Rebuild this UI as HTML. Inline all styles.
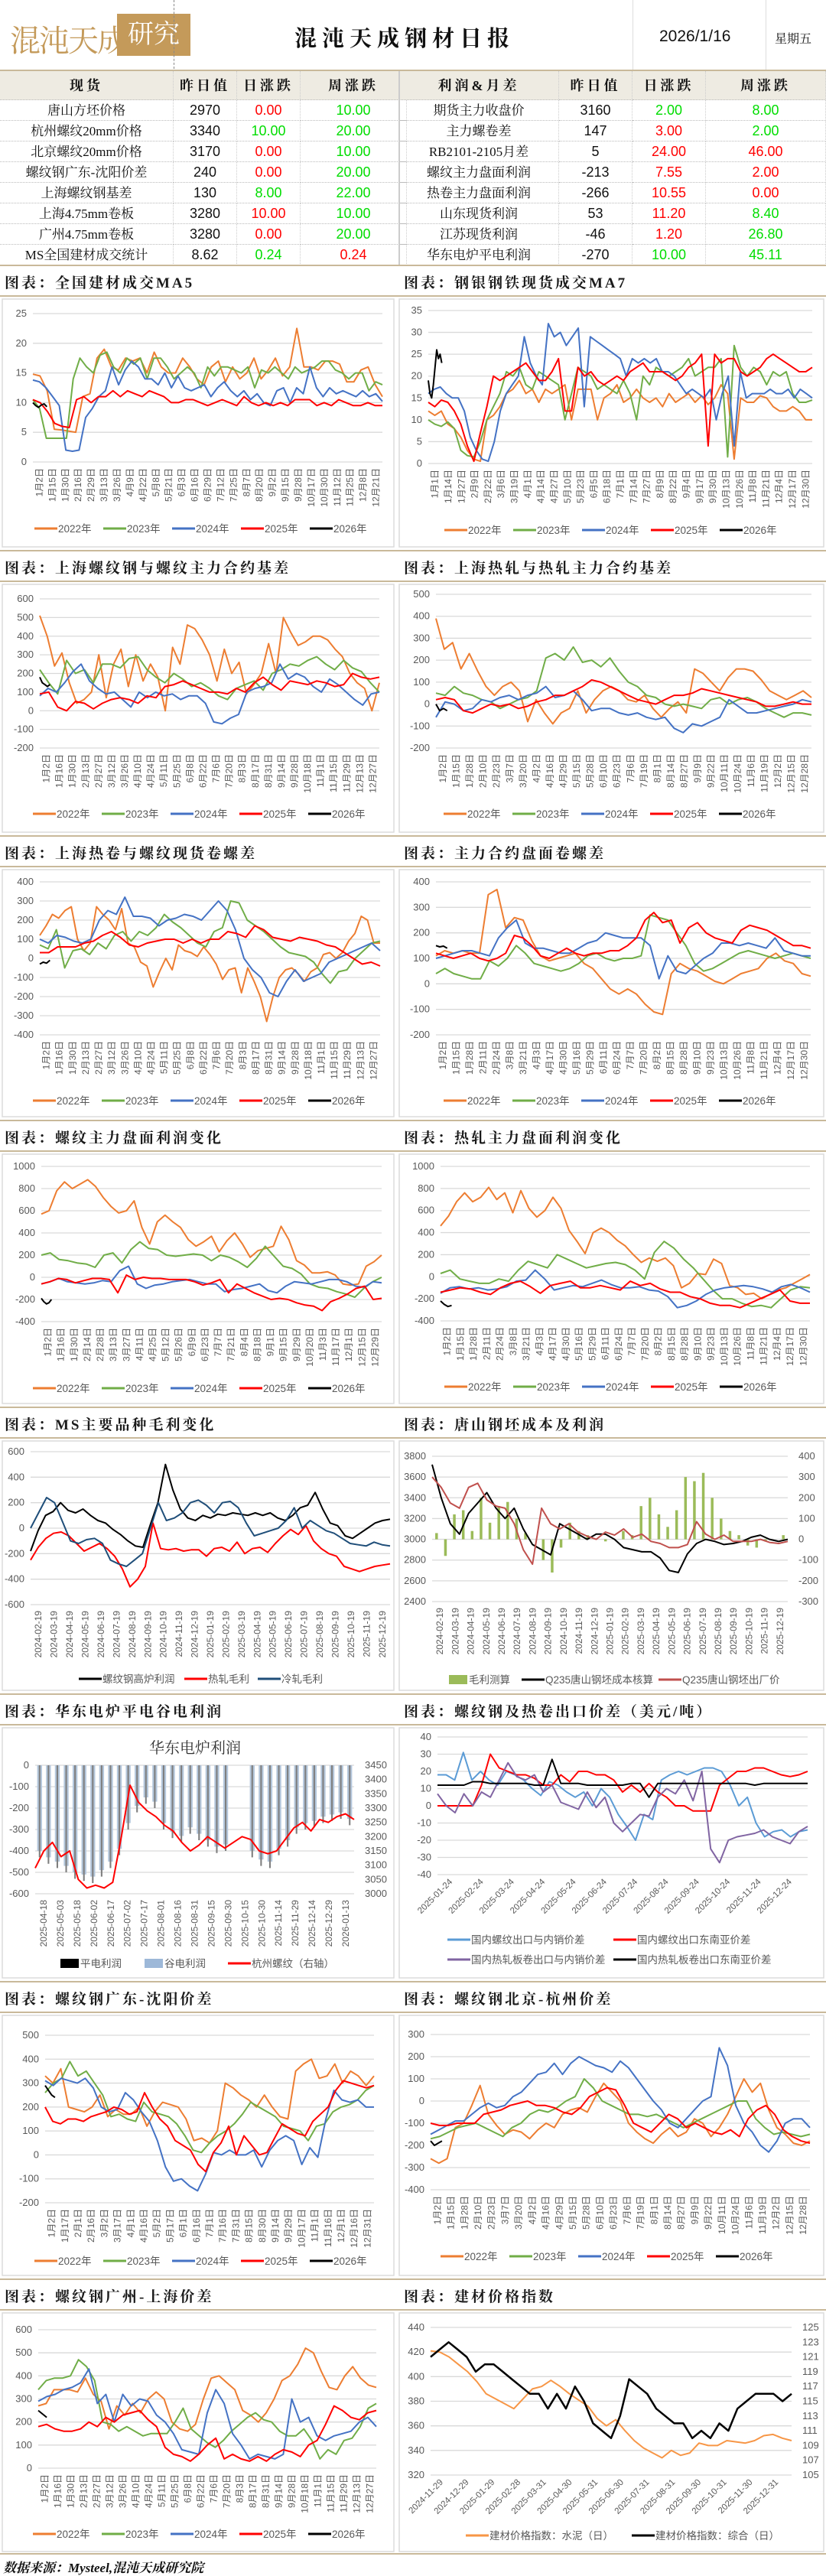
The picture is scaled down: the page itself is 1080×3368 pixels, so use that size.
<!DOCTYPE html>
<html><head><meta charset="utf-8">
<style>
body{margin:0;background:#fff;width:1080px;height:3364px;position:relative;overflow:hidden;font-family:"Liberation Sans","Noto Sans CJK SC",sans-serif}
.abs{position:absolute}
.kt{font-family:"Liberation Serif","Noto Serif CJK SC",serif}
table{border-collapse:collapse}
</style></head><body>
<div class="abs" style="left:13px;top:18px;width:238px;height:58px">
  <span class="kt abs" style="left:0;top:4px;font-size:40px;color:#c49a5a;letter-spacing:-2px">混沌天成</span>
  <div class="abs kt" style="left:140px;top:0;width:96px;height:55px;background:#c49a5a;color:#fff;font-size:34px;line-height:55px;text-align:center">研究院</div>
</div>
<div class="abs" style="left:227px;top:0;height:90px;border-left:1px dashed #888"></div>
<div class="abs" style="left:827px;top:0;height:92px;border-left:1px solid #ddd"></div>
<div class="abs" style="left:1001px;top:0;height:92px;border-left:1px solid #ddd"></div>
<div class="abs kt" style="left:385px;top:28px;font-size:29px;font-weight:bold;letter-spacing:7px;color:#111">混沌天成钢材日报</div>
<div class="abs" style="left:862px;top:36px;font-size:21px;color:#111">2026/1/16</div>
<div class="abs kt" style="left:1013px;top:38px;font-size:16px;color:#111">星期五</div>
<div class="abs" style="left:0;top:91px;width:1080px;height:2px;background:#c9b99a"></div>

<div id="tables"></div>
<svg id="chart" class="abs" style="left:0;top:0" width="1080" height="3364"></svg>
<div class="abs kt" style="left:4px;top:3343px;font-size:17px;font-style:italic;font-weight:bold;color:#111">数据来源：Mysteel,混沌天成研究院</div>

<script>
// ---------- table data ----------
const leftNames=["唐山方坯价格","杭州螺纹20mm价格","北京螺纹20mm价格","螺纹钢广东-沈阳价差","上海螺纹钢基差","上海4.75mm卷板","广州4.75mm卷板","MS全国建材成交统计"];
const leftPrev=["2970","3340","3170","240","130","3280","3280","8.62"];
const leftDay=["0.00","10.00","0.00","0.00","8.00","10.00","0.00","0.24"];
const leftDayC=["r","g","r","r","g","r","r","g"];
const leftWeek=["10.00","20.00","10.00","20.00","22.00","10.00","20.00","0.24"];
const leftWeekC=["g","g","g","g","g","g","g","r"];
const rightNames=["期货主力收盘价","主力螺卷差","RB2101-2105月差","螺纹主力盘面利润","热卷主力盘面利润","山东现货利润","江苏现货利润","华东电炉平电利润"];
const rightPrev=["3160","147","5","-213","-266","53","-46","-270"];
const rightDay=["2.00","3.00","24.00","7.55","10.55","11.20","1.20","10.00"];
const rightDayC=["g","r","r","r","r","r","r","g"];
const rightWeek=["8.00","2.00","46.00","2.00","0.00","8.40","26.80","45.11"];
const rightWeekC=["g","g","r","r","r","g","g","g"];
const COL={r:"#ff0000",g:"#00dd00"};
function buildTable(x,cols,head,names,prev,day,dc,week,wc,tag){
  let h=`<div class="abs" style="left:${x}px;top:93px">`;
  h+=`<div style="position:absolute;left:0;top:0;width:${cols.reduce((a,b)=>a+b)}px;height:38px;background:#eeebe2"></div>`;
  let cx=0;const cells=[head];
  for(let i=0;i<names.length;i++)cells.push([names[i],prev[i],day[i],week[i]]);
  cells.forEach((row,ri)=>{
    let top=ri==0?0:38+(ri-1)*27,hh=ri==0?38:27;cx=0;
    row.forEach((t,ci)=>{
      let color="#111";
      if(ri>0&&ci==2)color=COL[dc[ri-1]];
      if(ri>0&&ci==3)color=COL[wc[ri-1]];
      let fam=(ci==0||ri==0)?'class="kt"':'';
      let fs=ri==0?18:(ci==0?17:18);
      h+=`<div ${fam} style="position:absolute;left:${cx}px;top:${top}px;width:${cols[ci]}px;height:${hh}px;line-height:${hh}px;text-align:center;font-size:${fs}px;${ri==0?'font-weight:bold;letter-spacing:4px;':''}color:${color};border-bottom:1px dotted #bbb;border-right:1px dotted #ccc;box-sizing:border-box;white-space:nowrap;overflow:hidden">${t}</div>`;
      cx+=cols[ci];
    });
  });
  h+='</div>';return h;
}
document.getElementById('tables').innerHTML=
 buildTable(0,[227,83,83,139],["现货","昨日值","日涨跌","周涨跌"],leftNames,leftPrev,leftDay,leftDayC,leftWeek,leftWeekC,'spot-table')+
 buildTable(522,[209,96,96,157],["利润&月差","昨日值","日涨跌","周涨跌"],rightNames,rightPrev,rightDay,rightDayC,rightWeek,rightWeekC,'profit-table')+
 '<div class="abs" style="left:521px;top:93px;width:2px;height:254px;background:#ccc"></div>';

// ---------- chart data ----------
const c1_2022=[14.8,14.5,12,5.5,5.4,5.2,5,11,11.5,17.5,19,16,15.5,17.5,17,17.5,15,18.5,16,15,15,17.5,16,14,13,16,17,13.5,16,14,15,17.5,14,15.5,17.5,14.5,16,22.5,16,16,15.5,17,17,16.5,13.5,13.5,15.5,16,13,11];
const c1_2023=[10.5,9,4,4,4,4,14,17.5,16,15,18,18.5,16,15,17.5,16.5,17.5,14,17.5,17.5,16,14,15,16,15,12.5,16,14.5,16,16,15.5,15,16,12.5,15.5,15,16,15,14,16,15,15.5,16,17,17,15.5,15,14,15,15,12,13.5,13];
const c1_2024=[13.8,13.5,12.5,11,9.5,2,1.8,2,7.5,9,11,12,16,13,15.5,17,16,14,14,13,15,12.5,14.5,12.5,12,12.5,13,11,12.5,13.5,12,11,12,10.5,11.5,10,9.5,12,12.5,10,12.5,11.5,16,12.5,11,12.5,11.5,12,11.5,11,12,11,11.5,10.2];
const c1_2025=[10.5,10,8.5,6.5,6,5.8,10.5,11,10,11,11,12,11,12,11.5,11,12,11.5,11,10,10,10.5,10.5,10,9.5,10,10.5,10,9.5,11,10,9.5,10,9.5,10,9.5,10.5,10.5,10.5,9.5,10,9.5,10.5,10,9.5,9.5,10,9.5,9.5];
const c1_2026=[10,9.5,9.2,9.6,9.8,9.3];
const c2_2022=[12,11,12,9,8,6,3,1,0.5,10,11,13,16,17,19,16,17,14,17,16,17,18,10,17,17,17,10,15,16,18,14,15,17,15,14,15,13,16,14,15,16,14,15.5,13.5,15,18,16,1,15,14,14,15.5,15,13,12,12,13,12,10,10];
const c2_2023=[10,9,8.5,9.5,8,3,1.8,1.5,5,10,13,16,21,20,22,18,17,21,20,19,18,10,16,22,21,20,17,18,17,16,19,16,10,20,18,22,21,20,21,22,24,20,21,22,22,24,1.5,27,22,20,22,21,18,21,20,21,16,14,14,14.5];
const c2_2024=[16,17,17.5,16,15,15,12,6,3,1,0.5,5,12,16,18,20,29,23,20,18,32,29,30,27,29,31,13,29,28,27,26,25,24,20,24,23,24,23,24,21,21,20,18,16,17,16,15,17,10,16,20,4,21,15,16,16,16,17,16,16,17,15,17,16,15];
const c2_2025=[14,13,14.5,14,12,9,4,0.5,7,13,20,19,20,21,22,23,21,19,19,21,24,12,12,22,20,21,19,18,19,20,19,21,22,23,21,21,21,20,19,20,22,23,25,4,25,23,24,24,21,20,21,22,24,25,24,23,22,21,21,22];
const c2_2026=[19,16,15,18,22,26,24,25,23];
const c3_2022=[510,400,240,310,150,40,60,100,300,70,250,330,130,300,160,250,180,0,340,250,460,440,380,300,160,330,200,260,90,140,200,360,200,500,420,350,370,400,400,380,330,290,200,150,120,0,150];
const c3_2023=[220,150,90,270,200,220,150,250,250,230,280,290,220,180,150,200,170,130,150,120,80,60,120,140,160,110,200,220,250,240,270,290,250,220,270,230,210,150,100];
const c3_2024=[80,120,100,150,210,250,160,120,90,100,60,20,100,70,100,80,90,60,80,80,40,-60,-70,-40,-20,100,120,130,150,250,170,200,180,130,100,170,140,100,60,30,90,100];
const c3_2025=[90,100,20,0,50,40,10,40,60,70,60,40,80,70,130,140,160,140,120,100,100,90,120,100,150,180,140,110,160,150,140,160,150,130,140,200,180,170,180];
const c3_2026=[180,150,140,130,140];
const c4_2022=[390,250,280,160,230,150,80,40,80,100,60,-80,20,-40,-90,-40,-20,60,-40,20,60,80,60,20,10,40,-20,-60,-20,10,-40,160,140,100,60,120,160,160,150,110,60,40,20,40,60,30];
const c4_2023=[50,40,80,50,40,20,10,-20,0,20,30,60,210,230,200,260,190,200,170,210,150,100,80,40,30,0,-10,0,-10,-20,20,30,0,20,30,10,-20,-40,-60,-40,-40,-50];
const c4_2024=[-60,10,0,-30,-20,20,10,30,40,20,40,50,80,30,40,60,20,-30,-20,-20,-40,-50,-40,-60,-70,-60,-110,-130,-90,-100,-80,-60,20,-10,-40,-40,-30,-20,-10,0,20,10];
const c4_2025=[20,30,20,-30,-40,-20,0,-10,0,-20,-10,10,20,40,40,60,80,110,100,80,60,40,20,10,0,20,40,40,50,70,60,50,40,30,20,10,-10,-10,0,10,0,0];
const c4_2026=[0,-30,-20,-30];
const c5_2022=[120,170,230,210,250,270,100,40,80,270,230,200,150,260,80,60,-20,-40,-150,-70,0,-60,70,40,30,10,60,20,-30,-110,-60,-50,-180,-50,-120,-200,-330,-200,-100,-60,-50,-80,-120,-70,-50,20,30,0,30,90,130,220,200,80,80];
const c5_2023=[70,50,150,-50,40,50,20,80,50,120,140,90,140,120,160,230,190,160,120,80,60,140,160,300,290,200,170,140,100,60,30,20,10,-20,-80,-130,-70,-60,0,40,80,90];
const c5_2024=[100,80,120,110,90,80,100,200,250,230,320,220,220,210,170,200,210,230,220,200,250,300,250,150,0,-60,-100,-180,-200,-120,-60,-120,-100,-80,-20,0,20,40,60,80,40];
const c5_2025=[30,30,60,60,60,80,90,120,140,110,70,60,80,90,100,100,80,100,80,100,100,140,130,110,170,150,110,100,90,110,100,90,70,60,30,0,-30,-20,-40];
const c5_2026=[-30,-20,-25,-10];
const c6_2022=[110,130,120,130,120,120,350,370,220,260,250,170,110,90,100,110,120,80,60,20,-20,-40,-20,-40,-80,-110,-120,40,80,60,50,30,10,0,20,40,50,60,100,120,90,80,40,30];
const c6_2023=[40,60,40,30,20,20,90,70,100,150,120,80,70,60,50,60,80,110,120,100,90,100,100,110,270,260,250,200,150,80,50,60,80,100,120,130,120,110,100,110,120,110,100];
const c6_2024=[100,110,120,130,130,120,110,180,220,250,160,140,140,130,120,120,140,160,170,200,190,180,180,180,150,20,110,50,40,70,100,120,160,160,150,160,150,140,180,130,120,110,110];
const c6_2025=[120,110,100,110,120,100,90,100,120,190,180,150,110,100,120,140,120,110,120,120,130,130,150,180,250,280,240,250,160,220,240,200,180,170,160,210,230,220,210,190,170,150,150,140];
const c6_2026=[150,145,148,140];
const c7_2022=[570,600,780,860,800,840,880,820,720,640,580,600,690,450,300,500,560,500,450,340,280,320,370,230,330,400,300,180,240,260,280,460,340,150,110,40,40,50,20,-60,-70,-60,100,140,200];
const c7_2023=[200,220,160,150,130,120,90,200,220,130,250,320,260,250,200,190,200,210,200,150,200,180,140,90,170,280,190,100,80,30,-60,-90,-100,-130,-150,-180,-100,-40,0];
const c7_2024=[-60,-40,-10,-40,-50,-60,-50,-30,-40,60,100,-60,-100,-70,-60,-40,-30,-20,-40,-60,-60,-130,-110,-100,-80,-60,-120,-140,-80,-40,-50,-60,-40,-20,-20,-40,-80,-90,-40,-50];
const c7_2025=[-60,-40,-10,-20,-50,-30,-10,-10,-20,-140,20,-20,0,-10,-10,-20,-20,-20,-40,-70,-50,-20,-140,-60,-100,-140,-170,-200,-190,-200,-230,-250,-260,-300,-220,-190,-150,-100,-80,-200,-190];
const c7_2026=[-190,-220,-240,-230,-200];
const c8_2022=[460,550,680,760,680,720,810,700,760,580,780,620,540,600,720,620,420,320,210,400,440,400,330,280,200,130,170,140,170,100,-100,-60,30,20,160,120,-80,-100,-160,-150,-200,-160,-120,-100,-60,-20,20];
const c8_2023=[30,60,-20,-40,-60,-60,-20,-40,60,140,110,80,200,160,120,80,100,120,130,110,60,-20,220,320,260,160,80,-20,-120,-200,-200,-240,-270,-260,-280,-200,-120,-90,-100];
const c8_2024=[-150,-100,-90,-110,-100,-120,-110,-90,-40,-30,60,-20,-120,-100,-80,-90,-60,-30,-70,-100,-100,-90,-120,-130,-180,-280,-260,-220,-160,-120,-100,-90,-80,-90,-110,-140,-90,-70,-100,-140];
const c8_2025=[-140,-120,-100,-110,-140,-160,-100,-60,-40,-90,-150,-80,-60,-40,-100,-100,-80,-100,-120,-40,-80,-60,-110,-140,-140,-180,-200,-240,-260,-260,-280,-240,-200,-160,-120,-220,-240,-240];
const c8_2026=[-220,-250,-270,-260];
const c9_rebar=[-180,-20,100,130,200,140,120,150,100,60,40,-10,-50,-100,-140,-150,30,200,500,300,150,80,60,100,80,110,100,120,110,100,120,100,120,80,60,100,160,180,280,150,40,20,-60,-80,-40,0,40,60,70];
const c9_hrc=[-250,-150,-80,-40,-30,-60,-120,-180,-150,-120,-160,-220,-320,-460,-400,-300,40,-160,-170,-160,-180,-170,-170,-220,-160,-150,-180,-110,-200,-160,-150,-190,-120,-60,-10,-50,20,-100,-160,-200,-220,-300,-320,-340,-320,-300,-290,-280];
const c9_crc=[0,120,240,200,50,-100,-120,-90,-80,-120,-250,-280,-300,-250,-200,0,200,60,80,120,200,220,180,120,200,210,160,40,-60,-40,-20,0,60,160,0,60,20,-20,-40,-80,-120,-130,-140,-110,-130,-140];
const c10_cost=[3720,3400,3150,3050,3250,3350,3450,3300,3200,3300,3100,2950,2900,2850,3150,3100,3050,3000,3050,3050,3000,2920,2900,2880,2880,2820,2700,2680,2860,2960,3000,2980,2950,2960,2980,3020,3040,3000,2980,3000];
const c10_price=[3600,3500,3350,3300,3500,3540,3380,3320,3300,3150,2900,2760,3300,3150,3100,3150,3070,3030,3000,3070,3040,3100,3020,3050,2980,2960,2920,2920,2950,3170,3050,3000,3040,2980,2980,2980,3000,2970,2960,2980];
const c10_margin=[30,-80,120,140,40,200,80,160,180,100,30,0,-100,-160,-40,80,40,20,0,-10,0,40,20,160,200,120,60,140,300,280,320,200,100,40,20,-30,-40,-10,0,20];
const c11_flat=[-430,-460,-480,-500,-530,-540,-550,-520,-480,-420,-300,-220,-180,-200,-300,-340,-360,-320,-350,-380,-410,-400,null,null,-430,-470,-480,-420,-380,-320,-300,-290,-270,-260,-250,-280];
const c11_valley=[-400,-430,-450,-470,-500,-510,-520,-490,-450,-390,-270,-190,-150,-170,-270,-310,-330,-290,-320,-350,-380,-370,null,null,-400,-440,-450,-390,-350,-290,-270,-260,-240,-230,-220,-250];
const c11_price=[3090,3150,3180,3130,3150,3050,3020,3030,3020,3040,3200,3380,3320,3290,3270,3240,3220,3180,3150,3170,3200,3180,3160,3180,3200,3190,3150,3140,3150,3190,3230,3250,3220,3260,3250,3270,3280,3260];
const c12_rebarDom=[18,18,15,31,15,20,15,12,20,18,15,10,6,14,12,8,5,8,0,10,5,-5,-12,-20,-5,-8,15,18,20,18,20,22,22,20,12,0,5,-10,-18,-15,-14,-18,-15,-14];
const c12_rebarSEA=[0,0,0,0,0,12,30,22,20,18,18,16,12,12,18,14,20,20,18,18,15,8,12,8,13,8,5,0,0,-3,-3,-3,12,16,20,20,22,22,20,18,17,18,20];
const c12_hrcDom=[7,0,-4,7,0,8,5,15,25,17,15,18,8,12,2,0,-2,8,-1,5,-10,-15,-10,-5,-6,5,10,7,15,3,20,-25,-33,-20,-18,-17,-16,-14,-18,-20,-22,-15,-12];
const c12_hrcSEA=[12,12,12,12,14,14,13,13,13,13,13,12,12,27,13,13,13,12,12,12,12,12,13,13,5,13,13,13,13,13,13,13,13,13,13,13,12,13,13,13,13,13,13];
const c13_2022=[330,300,360,200,190,180,200,250,160,190,170,170,200,120,180,220,210,200,150,60,70,50,100,300,280,250,230,200,250,200,160,150,350,380,400,320,330,380,300,350,330,290,330];
const c13_2023=[260,300,320,390,330,350,300,250,160,170,150,140,220,180,170,160,130,80,20,10,50,80,100,130,170,220,200,180,160,120,110,100,60,120,130,180,200,210,230,270,290];
const c13_2024=[310,290,320,310,300,320,280,200,180,190,260,230,180,140,60,-50,-110,-100,-130,-150,-80,10,0,20,0,0,20,-50,20,60,80,60,-40,30,-10,150,270,230,220,230,200,200];
const c13_2025=[200,140,130,150,150,140,160,170,180,200,190,170,180,260,200,150,120,60,40,20,-40,-70,10,50,120,0,80,40,0,10,70,130,110,90,80,140,170,200,270,310,300,290,280,290];
const c13_2026=[290,270,250,240];
const c14_2022=[-260,-280,-260,-120,-100,-20,70,-60,-110,-150,-130,-140,-170,-130,-100,-120,-60,-40,-30,-50,20,80,40,0,-100,-140,-170,-190,-150,-120,-160,-140,-80,-100,-160,-120,-60,20,100,40,80,-40,-120,-150,-190,-200,-180];
const c14_2023=[-170,-160,-140,-120,-110,-100,-120,-140,-160,-120,-100,-60,-40,-50,-30,0,20,100,60,0,-20,-40,-60,-60,-70,-60,-80,-100,-120,-100,-80,-60,-40,-20,0,0,-80,-120,-150,-140,-150,-160,-150];
const c14_2024=[-150,-130,-110,-90,-90,-60,-30,-10,-30,-20,20,40,80,120,130,170,120,170,200,180,160,150,130,180,150,100,50,0,-40,-100,-120,-80,-40,0,20,240,160,-20,-100,-140,-200,-230,-180,-100,-80,-80,-120];
const c14_2025=[-100,-110,-110,-100,-100,-100,-60,-50,-40,-20,-10,0,-20,-20,-30,-50,-60,-30,20,40,60,50,-20,-100,-120,-140,-100,-60,-80,-120,-100,-120,-140,-150,-130,-160,-80,-40,-20,-60,-130,-160,-180,-190];
const c14_2026=[-180,-200,-190,-180];
const c15_2022=[270,280,340,340,340,330,390,320,290,170,270,230,280,240,300,330,300,200,170,160,190,300,390,400,370,340,250,230,200,240,300,380,400,450,520,500,420,350,340,400,440,390,360,350];
const c15_2023=[340,380,390,390,400,470,440,380,200,190,160,180,160,140,150,150,150,200,260,170,140,110,90,120,160,190,220,240,210,200,160,140,140,170,120,40,80,60,120,130,180,260,280];
const c15_2024=[290,310,320,340,350,370,430,280,320,200,320,270,300,290,230,200,150,80,70,60,240,340,280,150,100,40,60,50,40,60,300,200,220,140,120,140,150,160,200,220,180];
const c15_2025=[180,190,170,160,160,170,200,180,220,200,230,240,250,210,180,90,60,50,30,60,100,130,40,60,40,30,50,30,60,80,70,50,100,120,190,270,250,220,210,240,250];
const c15_2026=[250,240,230,220];
const c16_cement=[421,420,416,410,404,396,386,382,378,374,382,390,392,397,392,386,381,376,366,360,365,356,348,342,338,334,340,336,338,346,344,344,348,347,346,348,352,353,350,348];
const c16_overall=[121,122,123,122,121,119,120,120,119,118,117,116,116,114,116,114,117,115,112,111,110,113,118,117,116,114,113,112,112,110,111,110,112,111,114,115,116,116,116,115,116];

// tick label arrays
const lab1=["1月2日","1月15日","1月30日","2月16日","2月29日","3月13日","3月26日","4月9日","4月22日","5月8日","5月21日","6月3日","6月16日","6月29日","7月12日","7月25日","8月7日","8月20日","9月2日","9月15日","9月28日","10月17日","10月30日","11月12日","11月25日","12月8日","12月21日"];
const lab2=["1月1日","1月14日","1月27日","2月9日","2月22日","3月6日","3月19日","4月1日","4月14日","4月27日","5月10日","5月23日","6月5日","6月18日","7月1日","7月14日","7月27日","8月9日","8月22日","9月4日","9月17日","9月30日","10月13日","10月26日","11月8日","11月21日","12月4日","12月17日","12月30日"];
const lab3=["1月2日","1月16日","1月30日","2月13日","2月27日","3月12日","3月26日","4月10日","4月24日","5月11日","5月25日","6月8日","6月22日","7月6日","7月20日","8月3日","8月17日","8月31日","9月14日","9月28日","10月18日","11月1日","11月15日","11月29日","12月13日","12月27日"];
const lab4=["1月2日","1月15日","1月28日","2月10日","2月23日","3月7日","3月20日","4月2日","4月16日","4月29日","5月15日","5月28日","6月10日","6月23日","7月6日","7月19日","8月1日","8月14日","8月27日","9月9日","9月22日","10月11日","10月24日","11月6日","11月19日","12月2日","12月15日","12月28日"];
const lab6=["1月2日","1月15日","1月28日","2月11日","2月24日","3月8日","3月21日","4月3日","4月17日","4月30日","5月16日","5月29日","6月11日","6月24日","7月7日","7月20日","8月2日","8月15日","8月28日","9月10日","9月23日","10月13日","10月26日","11月8日","11月21日","12月4日","12月17日","12月30日"];
const lab7=["1月2日","1月16日","1月30日","2月14日","2月28日","3月13日","3月27日","4月11日","4月25日","5月12日","5月26日","6月9日","6月23日","7月7日","7月21日","8月4日","8月18日","9月1日","9月15日","9月29日","10月20日","11月3日","11月17日","12月1日","12月15日","12月29日"];
const lab13=["1月2日","1月17日","2月1日","2月16日","3月2日","3月17日","4月1日","4月16日","5月2日","5月17日","6月1日","6月16日","7月1日","7月16日","7月31日","8月15日","8月30日","9月14日","9月29日","10月17日","11月1日","11月16日","12月1日","12月16日","12月31日"];
const labMS=["2024-02-19","2024-03-19","2024-04-19","2024-05-19","2024-06-19","2024-07-19","2024-08-19","2024-09-19","2024-10-19","2024-11-19","2024-12-19","2025-01-19","2025-02-19","2025-03-19","2025-04-19","2025-05-19","2025-06-19","2025-07-19","2025-08-19","2025-09-19","2025-10-19","2025-11-19","2025-12-19"];
const labEAF=["2025-04-18","2025-05-03","2025-05-18","2025-06-02","2025-06-17","2025-07-02","2025-07-17","2025-08-01","2025-08-16","2025-08-31","2025-09-15","2025-09-30","2025-10-15","2025-10-30","2025-11-14","2025-11-29","2025-12-14","2025-12-29","2026-01-13"];
const labEXP=["2025-01-24","2025-02-24","2025-03-24","2025-04-24","2025-05-24","2025-06-24","2025-07-24","2025-08-24","2025-09-24","2025-10-24","2025-11-24","2025-12-24"];
const labIDX=["2024-11-29","2024-12-29","2025-01-29","2025-02-28","2025-03-31","2025-04-30","2025-05-31","2025-06-30","2025-07-31","2025-08-31","2025-09-30","2025-10-31","2025-11-30","2025-12-31"];
const yearNames=["2022年","2023年","2024年","2025年","2026年"];

// ---------- rendering ----------
const NS="http://www.w3.org/2000/svg";
const svg=document.getElementById('chart');
function el(tag,attrs,parent){const e=document.createElementNS(NS,tag);for(const k in attrs)e.setAttribute(k,attrs[k]);(parent||svg).appendChild(e);return e;}
const YC=["#ED7D31","#70AD47","#4472C4","#FF0000","#000000"];
const SEC=[369,742,1115,1487,1862,2237,2613,3002];
const TITLES=[["全国建材成交MA5","钢银钢铁现货成交MA7"],["上海螺纹钢与螺纹主力合约基差","上海热轧与热轧主力合约基差"],["上海热卷与螺纹现货卷螺差","主力合约盘面卷螺差"],["螺纹主力盘面利润变化","热轧主力盘面利润变化"],["MS主要品种毛利变化","唐山钢坯成本及利润"],["华东电炉平电谷电利润","螺纹钢及热卷出口价差（美元/吨）"],["螺纹钢广东-沈阳价差","螺纹钢北京-杭州价差"],["螺纹钢广州-上海价差","建材价格指数"]];
SEC.forEach((c,i)=>{
  el('rect',{x:0,y:c-23,width:1080,height:2,fill:'#c9b99a'});
  el('rect',{x:0,y:c+17,width:1080,height:2,fill:'#c9b99a'});
  const pb=i<7?SEC[i+1]-27:3336;
  const p1=el('rect',{x:3,y:c+22,width:512,height:pb-c-22,fill:'none',stroke:'#dcdcdc','stroke-width':1.5});
  
  const p2=el('rect',{x:522,y:c+22,width:555,height:pb-c-22,fill:'none',stroke:'#dcdcdc','stroke-width':1.5});
  
  [0,1].forEach(j=>{
    const t=el('text',{x:j?528:6,y:c+7,'font-size':19,'font-weight':'bold','letter-spacing':3,fill:'#1a1a1a','font-family':'"Liberation Serif","Noto Serif CJK SC",serif'});
    t.textContent='图表：'+TITLES[i][j];
    
    
  });
});
el('rect',{x:0,y:3338,width:1080,height:2,fill:'#c9b99a'});

function chart(cfg){
  const g=el('g',{});
  
  
  const yL=v=>cfg.b-(v-cfg.ymin)/(cfg.ymax-cfg.ymin)*(cfg.b-cfg.t);
  const yR=cfg.r2?(v=>cfg.b-(v-cfg.r2[0])/(cfg.r2[1]-cfg.r2[0])*(cfg.b-cfg.t)):yL;
  for(let v=cfg.ymin;v<=cfg.ymax+1e-9;v+=cfg.ystep){
    const y=yL(v);
    el('line',{x1:cfg.l,x2:cfg.r,y1:y,y2:y,stroke:'#d9d9d9','stroke-width':1.3},g);
    const t=el('text',{x:cfg.l-8,y:y+4,'text-anchor':'end','font-size':13,fill:'#595959'},g);
    t.textContent=Math.round(v*100)/100;
  }
  if(cfg.r2){
    for(let v=cfg.r2[0];v<=cfg.r2[1]+1e-9;v+=cfg.r2[2]){
      const t=el('text',{x:cfg.r+(cfg.r2x||8),y:yR(v)+4,'font-size':13,fill:'#595959'},g);
      t.textContent=v;
    }
  }
  const n=cfg.labels.length;
  cfg.labels.forEach((s,i)=>{
    const x=cfg.l+(cfg.r-cfg.l)*(i+0.5)/n;
    let t;
    if(cfg.rot45){
      t=el('text',{x:x,y:cfg.b+10,'text-anchor':'end','font-size':11.5,fill:'#595959',transform:`rotate(-45 ${x} ${cfg.b+10})`},g);
    }else{
      t=el('text',{x:x+4,y:cfg.b+8,'text-anchor':'end','font-size':12,fill:'#595959',transform:`rotate(-90 ${x+4} ${cfg.b+8})`},g);
    }
    t.textContent=s;
  });
  (cfg.bars||[]).forEach(bs=>{
    const m=bs.data.length,ys=bs.right?yR:yL,w=(cfg.r-cfg.l)/m*bs.w;
    bs.data.forEach((v,i)=>{
      if(v===null)return;
      const x=cfg.l+(cfg.r-cfg.l)*(i+0.5)/m;
      const y0=ys(0),y1=ys(v);
      const b=el('rect',{x:x-w/2,y:Math.min(y0,y1),width:w,height:Math.abs(y1-y0),fill:bs.color},g);
      
      
    });
  });
  cfg.series.forEach(s=>{
    const m=s.data.length,span=s.span||1,ys=s.right?yR:yL;
    let d='';
    s.data.forEach((v,i)=>{const x=cfg.l+(cfg.r-cfg.l)*span*i/(m-1);d+=(i?'L':'M')+x.toFixed(1)+','+ys(v).toFixed(1);});
    const p=el('path',{d:d,fill:'none',stroke:s.color,'stroke-width':s.w||2,'stroke-linejoin':'round'},g);
    
    
  });
  cfg.legend.forEach(it=>{
    const lg=el('g',{},g);
    
    
    if(it.box) el('rect',{x:it.x,y:it.y-6,width:24,height:12,fill:it.color},lg);
    else el('line',{x1:it.x,x2:it.x+30,y1:it.y,y2:it.y,stroke:it.color,'stroke-width':3},lg);
    const t=el('text',{x:it.x+(it.box?26:31),y:it.y+5,'font-size':13.5,fill:'#595959'},lg);
    t.textContent=it.label;
  });
}
function yearSeries(arrs,spans){return arrs.map((a,i)=>({name:'year-'+yearNames[i],data:a,color:YC[i],span:i==4?spans:1}));}
function yearLegend(x0,y){return yearNames.map((s,i)=>({label:s,color:YC[i],x:x0+i*90,y:y}));}

chart({name:'ma5-chart',l:43,r:500,t:410,b:604,ymin:0,ymax:25,ystep:5,labels:lab1,series:yearSeries([c1_2022,c1_2023,c1_2024,c1_2025,c1_2026],0.04),legend:yearLegend(45,691)});
chart({name:'ma7-chart',l:560,r:1062,t:406,b:606,ymin:0,ymax:35,ystep:5,labels:lab2,series:yearSeries([c2_2022,c2_2023,c2_2024,c2_2025,c2_2026],0.035),legend:yearLegend(581,693)});
chart({name:'rebar-basis-chart',l:52,r:496,t:783,b:978,ymin:-200,ymax:600,ystep:100,labels:lab3,series:yearSeries([c3_2022,c3_2023,c3_2024,c3_2025,c3_2026],0.03),legend:yearLegend(43,1064)});
chart({name:'hrc-basis-chart',l:570,r:1061,t:777,b:978,ymin:-200,ymax:500,ystep:100,labels:lab4,series:yearSeries([c4_2022,c4_2023,c4_2024,c4_2025,c4_2026],0.03),legend:yearLegend(580,1064)});
chart({name:'spot-coil-rebar-chart',l:52,r:497,t:1153,b:1353,ymin:-400,ymax:400,ystep:100,labels:lab3,series:yearSeries([c5_2022,c5_2023,c5_2024,c5_2025,c5_2026],0.03),legend:yearLegend(43,1439)});
chart({name:'futures-coil-rebar-chart',l:570,r:1060,t:1153,b:1353,ymin:-200,ymax:400,ystep:100,labels:lab6,series:yearSeries([c6_2022,c6_2023,c6_2024,c6_2025,c6_2026],0.03),legend:yearLegend(580,1439)});
chart({name:'rebar-profit-chart',l:54,r:499,t:1525,b:1728,ymin:-400,ymax:1000,ystep:200,labels:lab7,series:yearSeries([c7_2022,c7_2023,c7_2024,c7_2025,c7_2026],0.03),legend:yearLegend(43,1815)});
chart({name:'hrc-profit-chart',l:576,r:1059,t:1525,b:1727,ymin:-400,ymax:1000,ystep:200,labels:lab6,series:yearSeries([c8_2022,c8_2023,c8_2024,c8_2025,c8_2026],0.03),legend:yearLegend(581,1813)});
chart({name:'ms-margin-chart',l:40,r:510,t:1898,b:2098,ymin:-600,ymax:600,ystep:200,labels:labMS,
  series:[{name:'rebar-bf-profit',data:c9_rebar,color:'#000'},{name:'hrc-margin',data:c9_hrc,color:'#FF0000'},{name:'crc-margin',data:c9_crc,color:'#1F4E79'}],
  legend:[{label:'螺纹钢高炉利润',color:'#000',x:103,y:2195},{label:'热轧毛利',color:'#FF0000',x:241,y:2195},{label:'冷轧毛利',color:'#1F4E79',x:337,y:2195}]});
chart({name:'tangshan-billet-chart',l:565,r:1030,t:1904,b:2094,ymin:2400,ymax:3800,ystep:200,r2:[-300,400,100],r2x:14,labels:labMS,
  bars:[{name:'margin',data:c10_margin,color:'#9BBB59',right:true,w:0.3}],
  series:[{name:'billet-cost',data:c10_cost,color:'#000'},{name:'billet-price',data:c10_price,color:'#C0504D'}],
  legend:[{label:'毛利测算',color:'#9BBB59',x:587,y:2196,box:true},{label:'Q235唐山钢坯成本核算',color:'#000',x:682,y:2196},{label:'Q235唐山钢坯出厂价',color:'#C0504D',x:861,y:2196}]});
chart({name:'eaf-profit-chart',l:46,r:463,t:2308,b:2476,ymin:-600,ymax:0,ystep:100,r2:[3000,3450,50],r2x:14,labels:labEAF,
  bars:[{name:'valley-profit',data:c11_valley,color:'#B4C7DC',w:0.55},{name:'flat-profit',data:c11_flat,color:'#7f7f7f',w:0.18}],
  series:[{name:'hangzhou-rebar',data:c11_price,color:'#FF0000',right:true}],
  legend:[{label:'平电利润',color:'#000',x:79,y:2567,box:true},{label:'谷电利润',color:'#9DB8D8',x:189,y:2567,box:true},{label:'杭州螺纹（右轴）',color:'#FF0000',x:298,y:2567}]});
{const t=el('text',{x:255,y:2292,'text-anchor':'middle','font-size':20,fill:'#333','font-family':'"Liberation Serif","Noto Serif CJK SC",serif'});t.textContent='华东电炉利润';}
chart({name:'export-spread-chart',l:572,r:1056,t:2271,b:2451,ymin:-40,ymax:40,ystep:10,rot45:true,labels:labEXP,
  series:[{name:'rebar-export-domestic',data:c12_rebarDom,color:'#5B9BD5'},{name:'rebar-export-sea',data:c12_rebarSEA,color:'#FF0000'},{name:'hrc-export-domestic',data:c12_hrcDom,color:'#8064A2'},{name:'hrc-export-sea',data:c12_hrcSEA,color:'#000'}],
  legend:[{label:'国内螺纹出口与内销价差',color:'#5B9BD5',x:585,y:2536},{label:'国内螺纹出口东南亚价差',color:'#FF0000',x:802,y:2536},{label:'国内热轧板卷出口与内销价差',color:'#8064A2',x:585,y:2562},{label:'国内热轧板卷出口东南亚价差',color:'#000',x:802,y:2562}]});
chart({name:'gd-sy-spread-chart',l:59,r:489,t:2661,b:2880,ymin:-200,ymax:500,ystep:100,labels:lab13,series:yearSeries([c13_2022,c13_2023,c13_2024,c13_2025,c13_2026],0.03),legend:yearLegend(45,2956)});
chart({name:'bj-hz-spread-chart',l:563,r:1059,t:2660,b:2863,ymin:-400,ymax:300,ystep:100,labels:lab4,series:yearSeries([c14_2022,c14_2023,c14_2024,c14_2025,c14_2026],0.03),legend:yearLegend(576,2950)});
chart({name:'gz-sh-spread-chart',l:50,r:492,t:3046,b:3227,ymin:0,ymax:600,ystep:100,labels:lab3,series:yearSeries([c15_2022,c15_2023,c15_2024,c15_2025,c15_2026],0.025),legend:yearLegend(43,3313)});
chart({name:'building-material-index-chart',l:563,r:1035,t:3043,b:3236,ymin:320,ymax:440,ystep:20,r2:[105,125,2],r2x:14,rot45:true,labels:labIDX,
  series:[{name:'cement-index',data:c16_cement,color:'#F79646'},{name:'overall-index',data:c16_overall,color:'#000',right:true,w:2.5}],
  legend:[{label:'建材价格指数：水泥（日）',color:'#F79646',x:609,y:3315},{label:'建材价格指数：综合（日）',color:'#000',x:826,y:3315}]});
</script>
</body></html>
